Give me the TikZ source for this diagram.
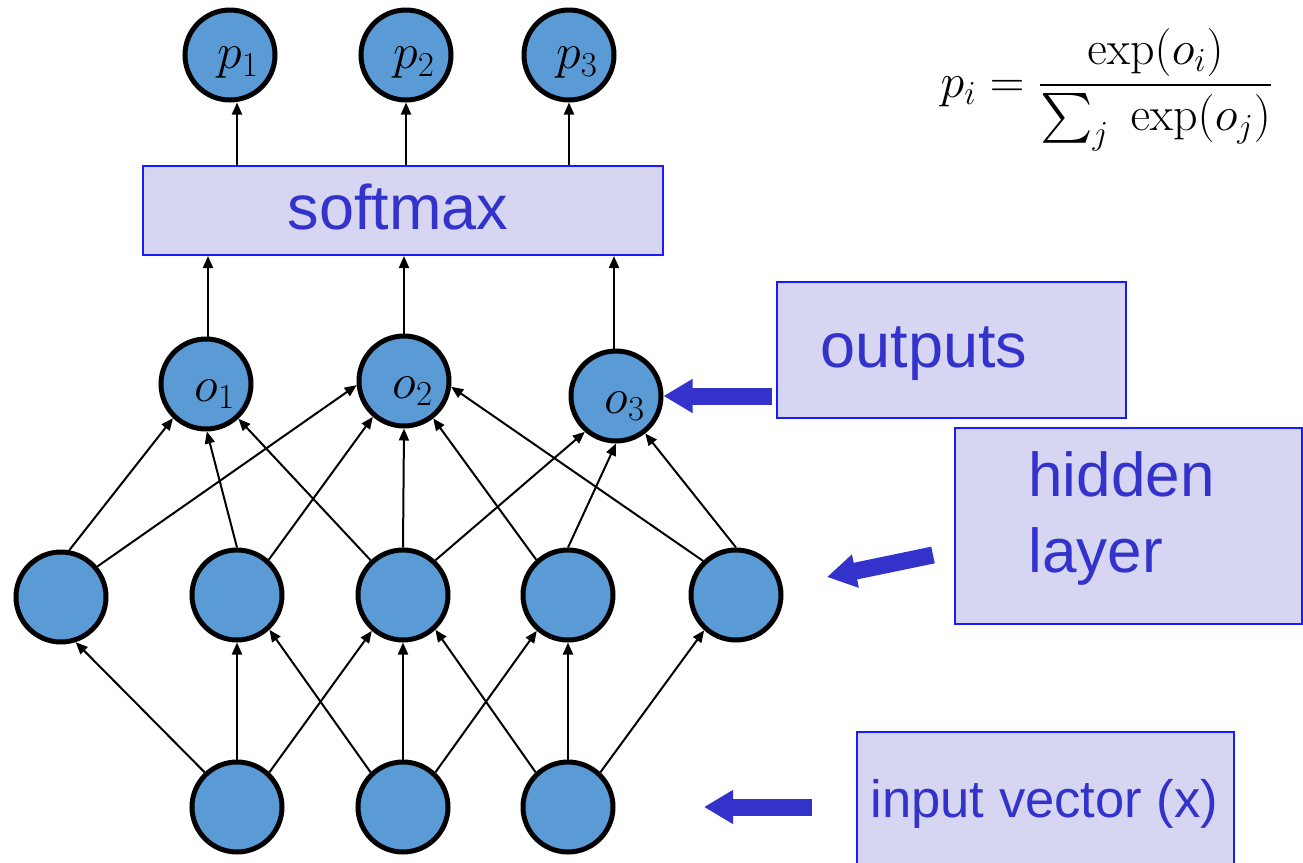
\RequirePackage{fix-cm}
\documentclass[tikz,border=0pt]{standalone}
\usepackage{exscale}
\usepackage[no-math]{fontspec}
\setmainfont{Liberation Sans}
\usetikzlibrary{arrows.meta}
\definecolor{nodeblue}{HTML}{5B9BD5}
\definecolor{boxfill}{HTML}{D6D6F2}
\definecolor{boxline}{HTML}{1A1AFF}
\definecolor{boxtext}{HTML}{3333CC}
\definecolor{pointer}{HTML}{3333CC}
\begin{document}
\begin{tikzpicture}[x=0.5pt,y=-0.5pt,
  neuron/.style={circle,draw=black,line width=2.5pt,fill=nodeblue,minimum size=45pt,inner sep=0pt},
  mathlbl/.style={font=\fontsize{25}{29}\selectfont},
  edge/.style={line width=1pt,-{Triangle[length=6pt,width=5pt]}},
  tag/.style={draw=boxline,line width=1pt,fill=boxfill,inner sep=0pt},
  tagtext/.style={text=boxtext,inner sep=0pt},
  pointer/.style={draw=pointer,line width=8.5pt,-{Triangle[length=14.5pt,width=16pt]}},
]
\useasboundingbox (0,0) rectangle (1303,863);

% probability nodes
\node[neuron,label={[mathlbl,xshift=4pt,yshift=-4pt]center:$p_1$}] (p1) at (230,55) {};
\node[neuron,label={[mathlbl,xshift=4pt,yshift=-4pt]center:$p_2$}] (p2) at (406,55) {};
\node[neuron,label={[mathlbl,xshift=4pt,yshift=-4pt]center:$p_3$}] (p3) at (569,55) {};

% softmax block
\node[tag,minimum width=260pt,minimum height=44.5pt] (soft) at (403,210.5) {};
\node[tagtext,font=\fontsize{31.5}{36}\selectfont] (softtext) at (398,207) {softmax};

% output nodes
\node[neuron,label={[mathlbl,xshift=4.5pt,yshift=-5pt]center:$o_1$}] (o1) at (206,384) {};
\node[neuron,label={[mathlbl,xshift=4.5pt,yshift=-5pt]center:$o_2$}] (o2) at (404,381) {};
\node[neuron,label={[mathlbl,xshift=4.5pt,yshift=-5pt]center:$o_3$}] (o3) at (616,396) {};

% hidden layer
\node[neuron] (h1) at (61,597) {};
\node[neuron] (h2) at (237,595) {};
\node[neuron] (h3) at (403,595) {};
\node[neuron] (h4) at (568,595) {};
\node[neuron] (h5) at (736,595) {};

% input layer
\node[neuron] (i1) at (237,807) {};
\node[neuron] (i2) at (403,807) {};
\node[neuron] (i3) at (568,807) {};

% softmax -> probabilities
\draw[edge] ([xshift=3.5pt]p1.south |- soft.north) -- ([xshift=3.5pt]p1.south);
\draw[edge] (p2.south |- soft.north) -- (p2.south);
\draw[edge] (p3.south |- soft.north) -- (p3.south);

% outputs -> softmax
\draw[edge] ([xshift=1pt]o1.north) -- ([xshift=1pt]o1.north |- soft.south);
\draw[edge] (o2.north) -- (o2.north |- soft.south);
\draw[edge] ([xshift=-1pt]o3.north) -- ([xshift=-1pt]o3.north |- soft.south);

% hidden -> outputs
\draw[edge] (h1.80)    -- (o1.226);
\draw[edge] (h1.40)    -- (o2.185);
\draw[edge] (h2.north) -- (o1.271);
\draw[edge] (h2.48)    -- (o2.229);
\draw[edge] (h3.133)   -- (o1.313);
\draw[edge] (h3.north) -- (o2.south);
\draw[edge] (h3.47)    -- (o3.229);
\draw[edge] (h4.132)   -- (o2.308);
\draw[edge] (h4.north) -- (o3.south);
\draw[edge] (h5.134)   -- (o2.353);
\draw[edge] (h5.north) -- (o3.308);

% inputs -> hidden
\draw[edge] (i1.133)   -- (h1.288);
\draw[edge] (i1.north) -- (h2.south);
\draw[edge] (i1.47)    -- (h3.229);
\draw[edge] (i2.133)   -- (h2.313);
\draw[edge] (i2.north) -- (h3.south);
\draw[edge] (i2.47)    -- (h4.229);
\draw[edge] (i3.133)   -- (h3.313);
\draw[edge] (i3.north) -- (h4.south);
\draw[edge] (i3.47)    -- (h5.228);

% annotation boxes
\node[tag,minimum width=174.5pt,minimum height=68pt] (outbox) at (951.5,350) {};
\node[tagtext,font=\fontsize{31.5}{36}\selectfont] (outtext) at (924,354) {outputs};

\node[tag,minimum width=173.5pt,minimum height=98pt] (hidbox) at (1128.5,526) {};
\node[tagtext,font=\fontsize{31}{38}\selectfont,align=left,anchor=west] (hidtext) at (1028,518) {hidden\\layer};

\node[tag,minimum width=188.5pt,minimum height=75pt] (inbox) at (1045.5,807) {};
\node[tagtext,font=\fontsize{26.3}{30}\selectfont,anchor=base west] (intext) at (870,817) {input vector (x)};

% pointers
\coordinate (hidtail) at (933,555);
\coordinate (hidtip) at (827,577);
\coordinate (intail) at (812,807);
\coordinate (intip) at (704,807);
\draw[pointer] ([xshift=-2pt]outbox.west |- o3.east) -- (o3.east);
\draw[pointer] (hidtail) -- (hidtip);
\draw[pointer] (intail) -- (intip);

% softmax formula
\node (formula) at (1107,90) {\fontsize{24}{28}\selectfont $p_i = \displaystyle\frac{\exp(o_i)}{\sum_j\ \exp(o_j)}$};
\end{tikzpicture}
\end{document}
